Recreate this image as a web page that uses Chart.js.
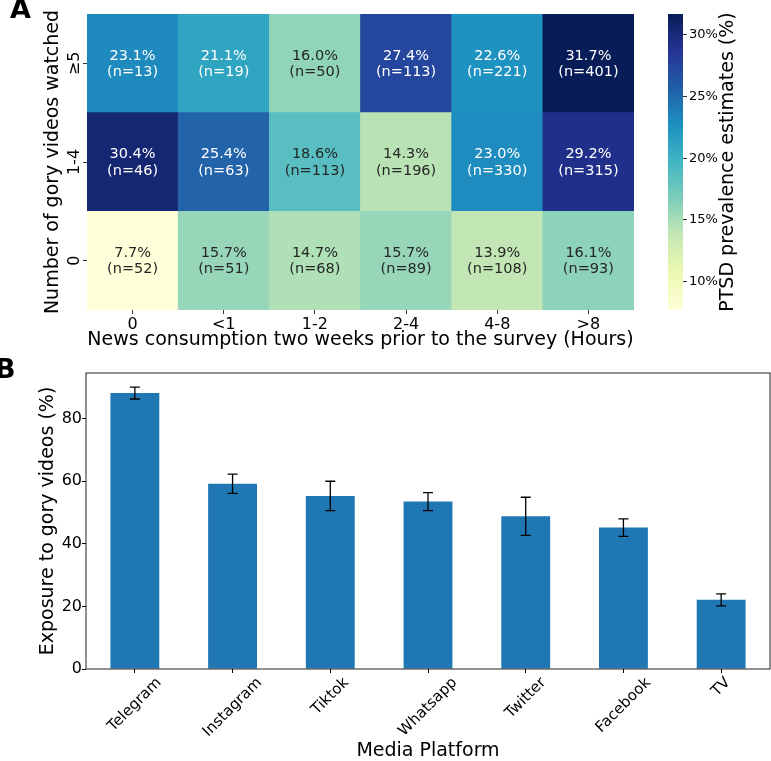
<!DOCTYPE html>
<html><head><meta charset="utf-8">
<script src="https://cdn.jsdelivr.net/npm/chart.js@4/dist/chart.umd.min.js"></script>
<style>
html,body{margin:0;padding:0;background:#fff;width:771px;height:761px;overflow:hidden;}
canvas{position:absolute;}
</style></head><body>
<canvas id="heat" width="771" height="355" style="left:0;top:0"></canvas>
<canvas id="cbar" width="116" height="355" style="left:655px;top:0"></canvas>
<canvas id="bars" width="771" height="406" style="left:0;top:355px"></canvas>
<script>
// ---------- Panel A data ----------
const newsHours = ['0', '<1', '1-2', '2-4', '4-8', '>8'];
const goryRows = ['0', '1-4', '≥5']; // bottom to top
const prevRow0 = [7.7, 15.7, 14.7, 15.7, 13.9, 16.1];
const prevRow1to4 = [30.4, 25.4, 18.6, 14.3, 23.0, 29.2];
const prevRow5plus = [23.1, 21.1, 16.0, 27.4, 22.6, 31.7];
const nRow0 = [52, 51, 68, 89, 108, 93];
const nRow1to4 = [46, 63, 113, 196, 330, 315];
const nRow5plus = [13, 19, 50, 113, 221, 401];
const colorbarTicks = [10, 15, 20, 25, 30];

// ---------- Panel B data ----------
const platforms = ['Telegram', 'Instagram', 'Tiktok', 'Whatsapp', 'Twitter', 'Facebook', 'TV'];
const exposure = [88.2, 59.2, 55.3, 53.5, 48.8, 45.2, 22.1];
const exposureErr = [1.9, 3.1, 4.7, 2.9, 6.1, 2.8, 1.9];
const exposureTicks = [0, 20, 40, 60, 80];

const FONT = "'DejaVu Sans', sans-serif";
Chart.defaults.font.family = FONT;
Chart.defaults.color = '#000';

const prevRows = [prevRow0, prevRow1to4, prevRow5plus];
const nRows = [nRow0, nRow1to4, nRow5plus];
const allVals = prevRows.flat();
const vmin = Math.min(...allVals), vmax = Math.max(...allVals);

const STOPS = ['#ffffd9','#edf8b1','#c7e9b4','#7fcdbb','#41b6c4','#1d91c0','#225ea8','#253494','#081d58'];
function hex2rgb(h){ return [parseInt(h.slice(1,3),16), parseInt(h.slice(3,5),16), parseInt(h.slice(5,7),16)]; }
function cmapRGB(v){
  let t = (v - vmin) / (vmax - vmin); t = Math.max(0, Math.min(1, t));
  const pos = t * 8; const i = Math.min(7, Math.floor(pos)); const f = pos - i;
  const a = hex2rgb(STOPS[i]), b = hex2rgb(STOPS[i+1]);
  return a.map((x, k) => Math.round(x + (b[k] - x) * f));
}
function cmap(v){ const c = cmapRGB(v); return `rgb(${c[0]},${c[1]},${c[2]})`; }
function textColor(v){
  const c = cmapRGB(v).map(x => { x /= 255; return x <= 0.03928 ? x / 12.92 : Math.pow((x + 0.055) / 1.055, 2.4); });
  const lum = 0.2126 * c[0] + 0.7152 * c[1] + 0.0722 * c[2];
  return lum > 0.408 ? '#262626' : '#ffffff';
}

// ---------- Heatmap ----------
const heatLabels = {
  id: 'heatLabels',
  afterDatasetsDraw(chart) {
    const ctx = chart.ctx;
    ctx.save();
    ctx.font = `14.5px ${FONT}`;
    ctx.textAlign = 'center';
    ctx.textBaseline = 'alphabetic';
    chart.data.datasets.forEach((ds, r) => {
      chart.getDatasetMeta(r).data.forEach((el, c) => {
        const v = prevRows[r][c];
        const cy = (el.y + el.base) / 2;
        ctx.fillStyle = textColor(v);
        ctx.fillText(v.toFixed(1) + '%', el.x, cy - 3.8);
        ctx.fillText('(n=' + nRows[r][c] + ')', el.x, cy + 12.5);
      });
    });
    ctx.restore();
  },
  afterDraw(chart) {
    const ctx = chart.ctx;
    ctx.save();
    ctx.font = `bold 27px ${FONT}`;
    ctx.fillStyle = '#000';
    ctx.textBaseline = 'alphabetic';
    ctx.textAlign = 'left';
    ctx.fillText('A', 10, 18);
    ctx.restore();
  }
};

new Chart(document.getElementById('heat'), {
  type: 'bar',
  data: {
    labels: newsHours,
    datasets: goryRows.map((row, r) => ({
      label: row,
      data: newsHours.map(() => [r, r + 1]),
      backgroundColor: prevRows[r].map(cmap),
      borderWidth: 0,
      grouped: false,
      barPercentage: 1,
      categoryPercentage: 1
    }))
  },
  options: {
    responsive: false,
    animation: false,
    layout: { padding: { top: 14, right: 137, left: 0, bottom: 0 } },
    plugins: { legend: { display: false }, tooltip: { enabled: false } },
    scales: {
      x: {
        type: 'category',
        offset: true,
        grid: { drawOnChartArea: false, drawTicks: true, tickLength: 4, offset: false, color: '#333' },
        border: { display: false },
        ticks: { font: { size: 16 }, color: '#000', padding: 1, maxRotation: 0 },
        title: { display: true, text: 'News consumption two weeks prior to the survey (Hours)', font: { size: 19 }, color: '#000', padding: { top: 0, bottom: 4 } },
        afterFit: s => { s.height = 45; }
      },
      y: {
        type: 'linear', min: 0, max: 3,
        afterBuildTicks: s => { s.ticks = goryRows.map((_, i) => ({ value: i + 0.5 })); },
        ticks: { callback: (v, i) => goryRows[i], minRotation: 90, maxRotation: 90, crossAlign: 'center', padding: -4.5, font: { size: 16 }, color: '#000' },
        grid: { drawOnChartArea: false, tickLength: 4, color: '#333' },
        border: { display: false },
        title: { display: true, text: 'Number of gory videos watched', font: { size: 19 }, color: '#000', padding: { top: 42, bottom: 0 } },
        afterFit: s => { s.width = 87; }
      }
    }
  },
  plugins: [heatLabels]
});

// ---------- Colorbar ----------
function cbGradient(chart) {
  const a = chart.chartArea;
  if (!a) return STOPS[0];
  const g = chart.ctx.createLinearGradient(0, a.bottom, 0, a.top);
  STOPS.forEach((c, i) => g.addColorStop(i / 8, c));
  return g;
}
const cbTitle = {
  id: 'cbTitle',
  afterDraw(chart) {
    const ctx = chart.ctx;
    ctx.save();
    ctx.translate(73, 162);
    ctx.rotate(-Math.PI / 2);
    ctx.font = `19px ${FONT}`;
    ctx.fillStyle = '#000';
    ctx.textAlign = 'center';
    ctx.textBaseline = 'middle';
    ctx.fillText('PTSD prevalence estimates (%)', 0, 0);
    ctx.restore();
  }
};
new Chart(document.getElementById('cbar'), {
  type: 'bar',
  data: { labels: [''], datasets: [{ data: [[vmin, vmax]], backgroundColor: ctx => cbGradient(ctx.chart), borderWidth: 0, barPercentage: 1, categoryPercentage: 1 }] },
  options: {
    responsive: false,
    animation: false,
    layout: { padding: { left: 13, top: 14, bottom: 45, right: 0 } },
    plugins: { legend: { display: false }, tooltip: { enabled: false } },
    scales: {
      x: { display: false },
      y: {
        position: 'right', min: vmin, max: vmax,
        afterBuildTicks: s => { s.ticks = colorbarTicks.map(v => ({ value: v })); },
        ticks: { callback: v => v + '%', font: { size: 13 }, color: '#000', padding: 2 },
        grid: { drawOnChartArea: false, tickLength: 4, color: '#333' },
        border: { display: false },
        afterFit: s => { s.width = 88; }
      }
    }
  },
  plugins: [cbTitle]
});

// ---------- Bar chart ----------
const yMax = Math.max(...exposure.map((v, i) => v + exposureErr[i])) * 1.05;
const barExtras = {
  id: 'barExtras',
  afterDatasetsDraw(chart) {
    const ctx = chart.ctx;
    const ys = chart.scales.y, xs = chart.scales.x;
    ctx.save();
    ctx.strokeStyle = '#000';
    ctx.lineWidth = 1.3;
    chart.getDatasetMeta(0).data.forEach((el, i) => {
      const x = el.x;
      const yt = ys.getPixelForValue(exposure[i] + exposureErr[i]);
      const yb = ys.getPixelForValue(exposure[i] - exposureErr[i]);
      ctx.beginPath();
      ctx.moveTo(x, yt); ctx.lineTo(x, yb);
      ctx.moveTo(x - 5, yt); ctx.lineTo(x + 5, yt);
      ctx.moveTo(x - 5, yb); ctx.lineTo(x + 5, yb);
      ctx.stroke();
    });
    // spines
    const a = chart.chartArea;
    ctx.lineWidth = 1;
    ctx.strokeStyle = '#222';
    ctx.strokeRect(a.left, a.top, a.right - a.left, a.bottom - a.top);
    // rotated x tick labels (centered on tick like matplotlib)
    ctx.font = `15px ${FONT}`;
    ctx.fillStyle = '#000';
    ctx.textAlign = 'center';
    ctx.textBaseline = 'middle';
    const y0 = a.bottom + 6;
    platforms.forEach((lab, i) => {
      const x = xs.getPixelForTick(i);
      const w = ctx.measureText(lab).width;
      const half = (w + 15) * Math.SQRT1_2 / 2;
      ctx.save();
      ctx.translate(x, y0 + half);
      ctx.rotate(-Math.PI / 4);
      ctx.fillText(lab, 0, 0);
      ctx.restore();
    });
    // panel label
    ctx.font = `bold 27px ${FONT}`;
    ctx.textAlign = 'left';
    ctx.textBaseline = 'alphabetic';
    ctx.fillText('B', -5, 23);
    ctx.restore();
  }
};
new Chart(document.getElementById('bars'), {
  type: 'bar',
  data: { labels: platforms, datasets: [{ data: exposure, backgroundColor: '#1f77b4', borderWidth: 0, barPercentage: 1, categoryPercentage: 0.5 }] },
  options: {
    responsive: false,
    animation: false,
    layout: { padding: { top: 18, right: 1, left: 0, bottom: 0 } },
    plugins: { legend: { display: false }, tooltip: { enabled: false } },
    scales: {
      x: {
        grid: { drawOnChartArea: false, offset: false, tickLength: 4, color: '#000' },
        border: { display: false },
        ticks: { display: false },
        title: { display: true, text: 'Media Platform', font: { size: 19, lineHeight: 1 }, color: '#000', padding: { top: 0, bottom: 0 } },
        afterFit: s => { s.height = 92; }
      },
      y: {
        min: 0, max: yMax,
        afterBuildTicks: s => { s.ticks = exposureTicks.map(v => ({ value: v })); },
        ticks: { font: { size: 16 }, color: '#000', padding: 0 },
        grid: { drawOnChartArea: false, tickLength: 4, color: '#000' },
        border: { display: false },
        title: { display: true, text: 'Exposure to gory videos (%)', font: { size: 19 }, color: '#000', padding: { top: 37, bottom: 0 } },
        afterFit: s => { s.width = 86; }
      }
    }
  },
  plugins: [barExtras]
});
</script>
</body></html>
